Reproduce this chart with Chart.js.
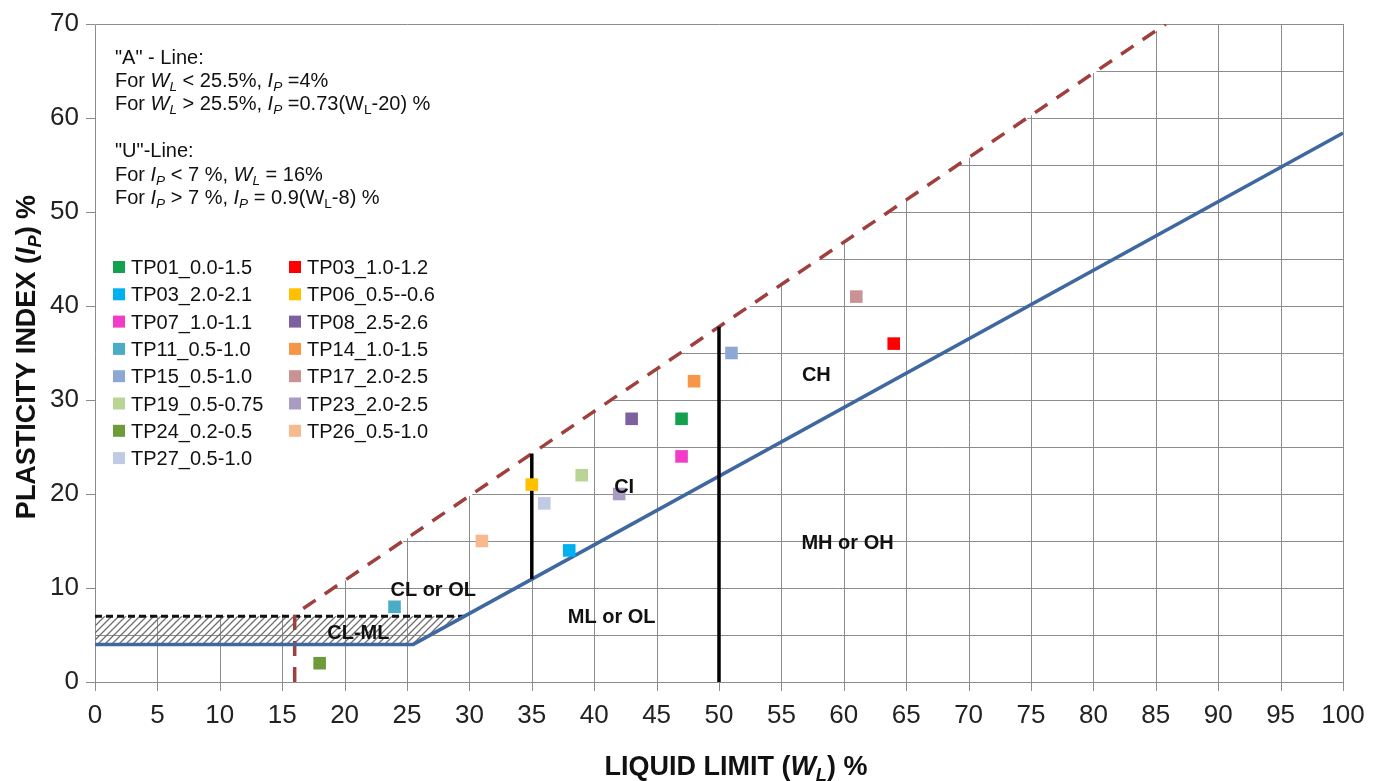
<!DOCTYPE html>
<html>
<head>
<meta charset="utf-8">
<script src="https://cdn.jsdelivr.net/npm/chart.js@4"></script>
<style>
  html, body { margin: 0; padding: 0; background: #fff; }
  canvas { display: block; }
</style>
</head>
<body>
<canvas id="plasticity" width="1384" height="781"></canvas>
<script>
const FONT = '"Liberation Sans", Arial, sans-serif';
const GRID = '#8c8c8c';

// test pit samples
const sampleLabels = ['TP01_0.0-1.5', 'TP03_1.0-1.2', 'TP03_2.0-2.1', 'TP06_0.5--0.6', 'TP07_1.0-1.1',
  'TP08_2.5-2.6', 'TP11_0.5-1.0', 'TP14_1.0-1.5', 'TP15_0.5-1.0', 'TP17_2.0-2.5',
  'TP19_0.5-0.75', 'TP23_2.0-2.5', 'TP24_0.2-0.5', 'TP26_0.5-1.0', 'TP27_0.5-1.0'];
const sampleWL = [47, 64, 38, 35, 47, 43, 24, 48, 51, 61, 39, 42, 18, 31, 36];
const sampleIP = [28, 36, 14, 21, 24, 28, 8, 32, 35, 41, 22, 20, 2, 15, 19];
const sampleColors = ['#12a14f', '#ff0000', '#00b0f0', '#ffc000', '#f23bc8',
  '#7d60a0', '#4bacc6', '#f79646', '#8ea8d6', '#c99293',
  '#b9d494', '#a99bc2', '#6e9a3a', '#f9b98e', '#c0cae4'];

// "A" line and "U" line
const aLineWL = [0, 25.5, 100];
const aLineIP = [4, 4, 58.4];
const uLineWL = [16, 16, 85.8];
const uLineIP = [0, 7.2, 70];
// CL-ML band
const bandTopWL = [0, 29.6];
const bandTopIP = [7, 7];
const bandWL = [0, 25.5, 29.6, 0, 0];
const bandIP = [4, 4, 7, 7, 4];
// grid is only drawn below this edge (band top, then the U line)
const gridEdgeWL = [0, 16, 85.8, 100];
const gridEdgeIP = [7, 7.2, 70, 70];
// low / intermediate / high plasticity dividers
const div35WL = [35, 35];
const div35IP = [10.95, 24.3];
const div50WL = [50, 50];
const div50IP = [0, 37.8];

// zone names
const zoneText = ['CL or OL', 'CL-ML', 'ML or OL', 'CI', 'CH', 'MH or OH'];
const zoneWL = [27.1, 21.1, 41.4, 42.4, 57.8, 60.3];
const zoneIP = [9.9, 5.3, 7.0, 20.8, 32.8, 14.9];

const pts = (xs, ys) => xs.map((x, i) => ({ x: x, y: ys[i] }));

// [text, style]  style: i = italic, s = subscript
const noteLines = [
  [['"A" - Line:']],
  [['For '], ['W', 'i'], ['L', 'is'], [' < 25.5%, '], ['I', 'i'], ['P', 'is'], [' =4%']],
  [['For '], ['W', 'i'], ['L', 'is'], [' > 25.5%, '], ['I', 'i'], ['P', 'is'], [' =0.73(W'], ['L', 's'], ['-20) %']],
  null,
  [['"U"-Line:']],
  [['For '], ['I', 'i'], ['P', 'is'], [' < 7 %, '], ['W', 'i'], ['L', 'is'], [' = 16%']],
  [['For '], ['I', 'i'], ['P', 'is'], [' > 7 %, '], ['I', 'i'], ['P', 'is'], [' = 0.9(W'], ['L', 's'], ['-8) %']]
];
const xTitle = [['LIQUID LIMIT ('], ['W', 'i'], ['L', 'is'], [') %']];
const yTitle = [['PLASTICITY INDEX ('], ['I', 'i'], ['P', 'is'], [') %']];

function setFont(ctx, st, size, bold) {
  const sub = st && st.includes('s');
  const it = st && st.includes('i');
  ctx.font = (it ? 'italic ' : '') + (bold ? 'bold ' : '') + (sub ? size * 0.68 : size) + 'px ' + FONT;
}
function richWidth(ctx, segs, size, bold) {
  let w = 0;
  segs.forEach(([t, st]) => { setFont(ctx, st, size, bold); w += ctx.measureText(t).width; });
  return w;
}
function drawRich(ctx, x, y, segs, size, bold) {
  let cx = x;
  segs.forEach(([t, st]) => {
    setFont(ctx, st, size, bold);
    ctx.fillText(t, cx, y + (st && st.includes('s') ? size * 0.22 : 0));
    cx += ctx.measureText(t).width;
  });
}

// piecewise linear lookups along the grid edge
function edgeIPAt(w) {
  for (let i = 1; i < gridEdgeWL.length; i++) {
    const w0 = gridEdgeWL[i - 1], w1 = gridEdgeWL[i];
    if (w <= w1) return gridEdgeIP[i - 1] + (gridEdgeIP[i] - gridEdgeIP[i - 1]) * (w - w0) / (w1 - w0);
  }
  return gridEdgeIP[gridEdgeIP.length - 1];
}
function edgeWLAt(v) {
  if (v <= gridEdgeIP[0]) return gridEdgeWL[0];
  for (let i = 1; i < gridEdgeIP.length; i++) {
    const v0 = gridEdgeIP[i - 1], v1 = gridEdgeIP[i];
    if (v <= v1 && v1 > v0) return gridEdgeWL[i - 1] + (gridEdgeWL[i] - gridEdgeWL[i - 1]) * (v - v0) / (v1 - v0);
  }
  return gridEdgeWL[gridEdgeWL.length - 1];
}

function hatchPattern(ctx) {
  const p = document.createElement('canvas');
  p.width = p.height = 7;
  const g = p.getContext('2d');
  g.strokeStyle = '#707070';
  g.lineWidth = 1.3;
  g.beginPath();
  g.moveTo(-1, 8); g.lineTo(8, -1);
  g.moveTo(-1, 1); g.lineTo(1, -1);
  g.moveTo(6, 8); g.lineTo(8, 6);
  g.stroke();
  return ctx.createPattern(p, 'repeat');
}

const overlay = {
  id: 'overlay',
  beforeDatasetsDraw(chart) {
    // grid and tick marks from the scale ticks, kept under the U line
    const ctx = chart.ctx;
    const a = chart.chartArea;
    const xs = chart.scales.x, ys = chart.scales.y;
    ctx.save();
    ctx.strokeStyle = GRID;
    ctx.lineWidth = 1;
    ctx.setLineDash([]);
    ctx.beginPath();
    xs.ticks.forEach(t => {
      const px = Math.round(xs.getPixelForValue(t.value)) + 0.5;
      ctx.moveTo(px, a.bottom + 9);
      ctx.lineTo(px, ys.getPixelForValue(edgeIPAt(t.value)));
    });
    ys.ticks.forEach(t => {
      const py = Math.round(ys.getPixelForValue(t.value)) + 0.5;
      ctx.moveTo(t.value % 10 === 0 ? a.left - 9 : a.left, py);
      ctx.lineTo(a.left, py);
      ctx.moveTo(xs.getPixelForValue(edgeWLAt(t.value)), py);
      ctx.lineTo(a.right, py);
    });
    // frame
    ctx.moveTo(a.left + 0.5, a.bottom);
    ctx.lineTo(a.left + 0.5, a.top + 0.5);
    ctx.lineTo(a.right, a.top + 0.5);
    ctx.stroke();
    ctx.restore();
  },
  afterDatasetsDraw(chart) {
    const ctx = chart.ctx;
    const xs = chart.scales.x, ys = chart.scales.y;
    ctx.save();
    ctx.fillStyle = '#111';
    ctx.textBaseline = 'alphabetic';
    // zone names
    ctx.font = 'bold 20px ' + FONT;
    ctx.textAlign = 'center';
    zoneText.forEach((t, i) => {
      ctx.fillText(t, xs.getPixelForValue(zoneWL[i]), ys.getPixelForValue(zoneIP[i]) + 7);
    });
    ctx.textAlign = 'left';

    // notes
    const noteBase = [64, 87, 110, 0, 157, 181, 204];
    noteLines.forEach((segs, i) => {
      if (segs) drawRich(ctx, 115, noteBase[i], segs, 20, false);
    });

    // legend, two columns
    ctx.font = '20px ' + FONT;
    sampleLabels.forEach((lab, i) => {
      const col = i % 2, row = Math.floor(i / 2);
      const x = col ? 289 : 113;
      const cy = 267 + row * 27.3;
      ctx.fillStyle = sampleColors[i];
      ctx.fillRect(x, cy - 6, 12, 12);
      ctx.fillStyle = '#111';
      ctx.fillText(lab, x + 18, cy + 7);
    });

    // axis titles
    const tw = richWidth(ctx, xTitle, 27, true);
    drawRich(ctx, 736 - tw / 2, 775, xTitle, 27, true);
    const yw = richWidth(ctx, yTitle, 27, true);
    ctx.translate(35, 357);
    ctx.rotate(-Math.PI / 2);
    drawRich(ctx, -yw / 2, 0, yTitle, 27, true);
    ctx.restore();
  }
};

const ctx = document.getElementById('plasticity').getContext('2d');

const lineDs = (data, color, width, dash, order) => ({
  data: data, showLine: true, borderColor: color, borderWidth: width, borderDash: dash || [],
  pointRadius: 0, fill: false, order: order, tension: 0
});

const sampleSets = sampleLabels.map((lab, i) => ({
  label: lab,
  data: [{ x: sampleWL[i], y: sampleIP[i] }],
  pointStyle: 'rect',
  pointRadius: 8.9,
  backgroundColor: sampleColors[i],
  borderColor: sampleColors[i],
  borderWidth: 0,
  order: 0
}));

new Chart(ctx, {
  type: 'scatter',
  data: {
    datasets: [
      {
        data: pts(bandWL, bandIP), showLine: true, fill: 'shape', backgroundColor: hatchPattern(ctx),
        borderColor: 'rgba(0,0,0,0)', borderWidth: 1, pointRadius: 0, order: 9
      },
      lineDs(pts(bandTopWL, bandTopIP), '#111', 3, [7, 4], 3),
      lineDs(pts(aLineWL, aLineIP), '#3f68a0', 3.5, null, 2),
      lineDs(pts(uLineWL, uLineIP), '#a0403e', 3.5, [15, 11], 2),
      lineDs(pts(div35WL, div35IP), '#000', 3.5, null, 1),
      lineDs(pts(div50WL, div50IP), '#000', 3.5, null, 1),
      ...sampleSets
    ]
  },
  options: {
    responsive: false,
    animation: false,
    layout: { padding: { left: 0, top: 24, right: 41, bottom: 0 } },
    plugins: { legend: { display: false }, tooltip: { enabled: false } },
    scales: {
      x: {
        type: 'linear', min: 0, max: 100,
        ticks: { stepSize: 5, autoSkip: false, maxRotation: 0, padding: 9, color: '#222', font: { family: FONT, size: 26 } },
        grid: { display: false, tickLength: 9 },
        border: { display: false },
        afterFit: s => { s.height = 99; }
      },
      y: {
        min: 0, max: 70,
        ticks: {
          stepSize: 5, autoSkip: false, padding: 7, color: '#222', font: { family: FONT, size: 26 },
          callback: v => (v % 10 === 0 ? v : '')
        },
        grid: { display: false, tickLength: 9 },
        border: { display: false },
        afterFit: s => { s.width = 95; }
      }
    }
  },
  plugins: [overlay]
});
</script>
</body>
</html>
